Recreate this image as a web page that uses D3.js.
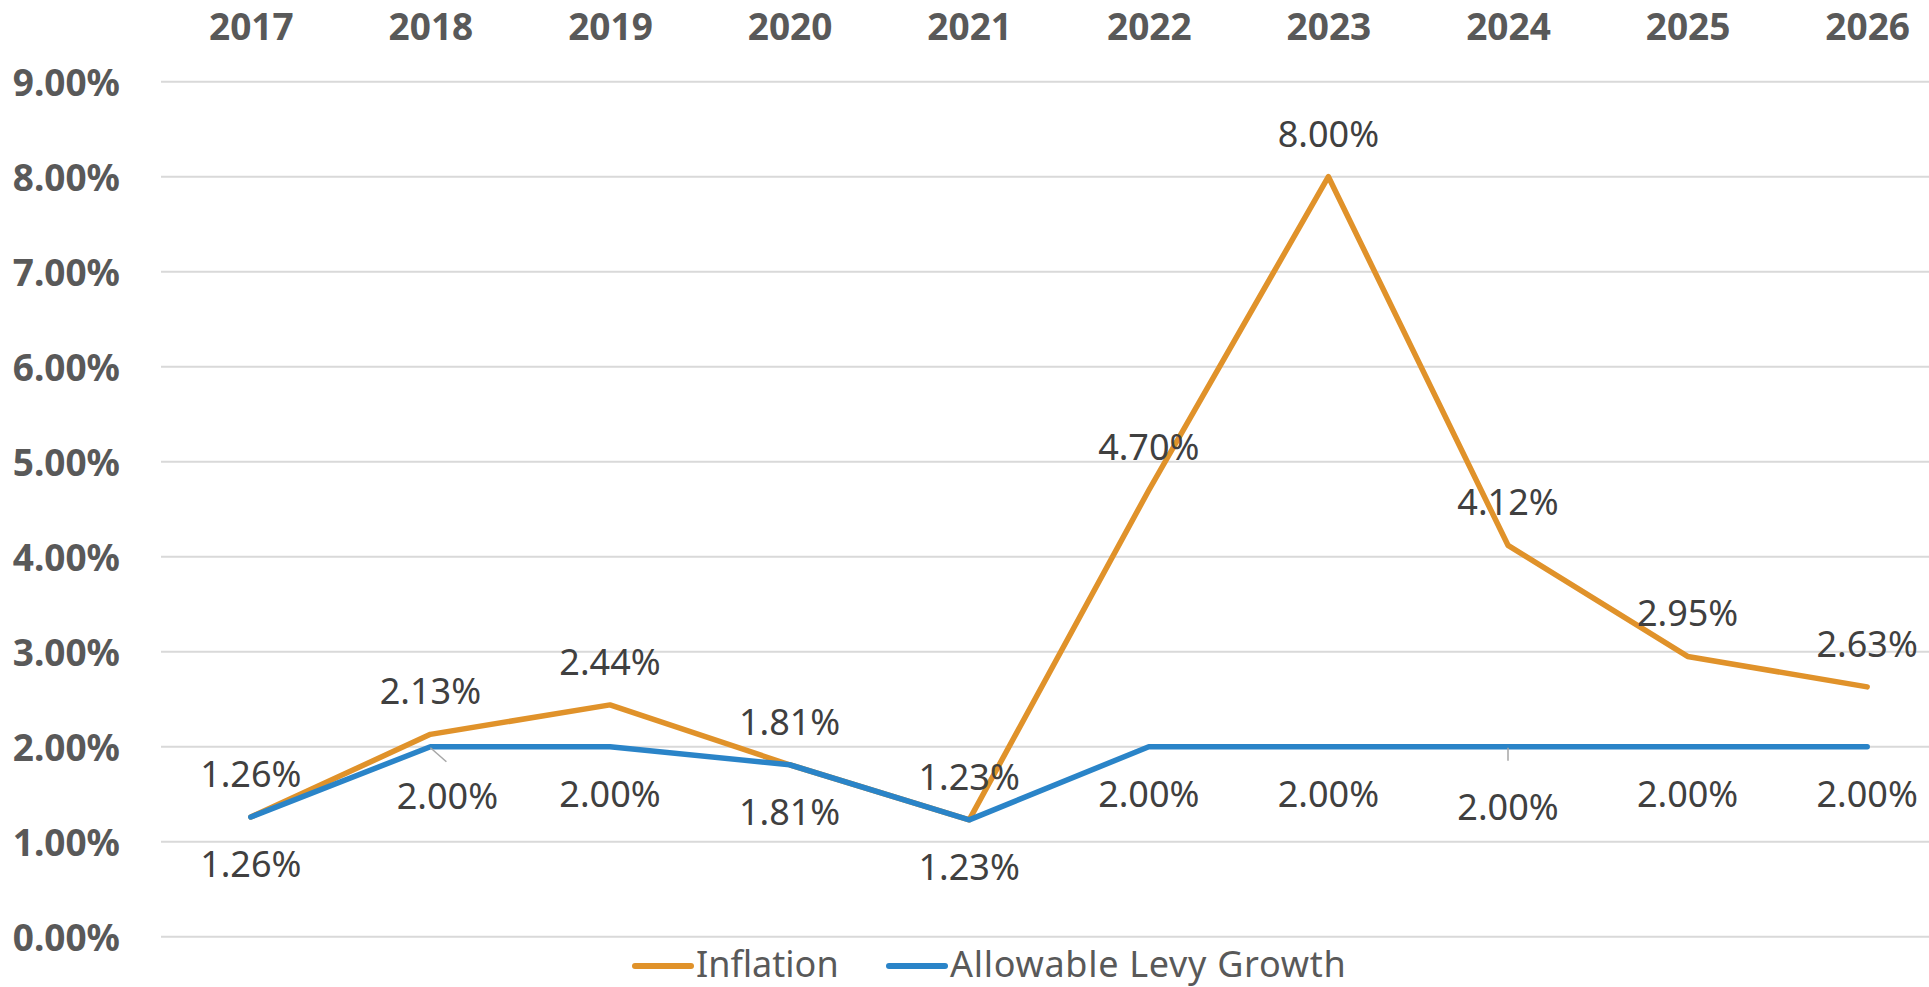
<!DOCTYPE html>
<html>
<head>
<meta charset="utf-8">
<script src="https://cdn.jsdelivr.net/npm/d3@7"></script>
<style>
  html, body { margin: 0; padding: 0; background: #ffffff; overflow: hidden; }
  svg { display: block; }
</style>
</head>
<body>
<svg id="chart" width="1929" height="987"></svg>
<script>
// ---- data ----
const years = ["2017", "2018", "2019", "2020", "2021", "2022", "2023", "2024", "2025", "2026"];
const inflation = [1.26, 2.13, 2.44, 1.81, 1.23, 4.70, 8.00, 4.12, 2.95, 2.63];
const allowableLevyGrowth = [1.26, 2.00, 2.00, 1.81, 1.23, 2.00, 2.00, 2.00, 2.00, 2.00];
const yTicks = [0, 1, 2, 3, 4, 5, 6, 7, 8, 9];
const seriesNames = ["Inflation", "Allowable Levy Growth"];

// ---- layout / style ----
const W = 1929, H = 987;
const colors = { "Inflation": "#E0922A", "Allowable Levy Growth": "#2A84C8" };
const FONT = "'Noto Sans', 'Liberation Sans', sans-serif";
// label nudges for labels Excel moved (with leader lines): [dx, dy] relative to default spot
const allowNudge = { "2018": [17, 2], "2024": [0, 13] };

const svg = d3.select("#chart");

const x = d3.scalePoint().domain(years).range([161, 1957]).padding(0.5);
const y = d3.scaleLinear().domain([0, 9]).range([936.7, 81.7]);

// gridlines
svg.append("g").selectAll("line").data(yTicks).join("line")
  .attr("x1", 161).attr("x2", 1957)
  .attr("y1", d => y(d)).attr("y2", d => y(d))
  .attr("stroke", "#D9D9D9").attr("stroke-width", 2);

// y axis labels
const yAxis = d3.axisLeft(y).tickValues(yTicks).tickSize(0).tickPadding(0)
  .tickFormat(d => d.toFixed(2) + "%");
const gy = svg.append("g").attr("transform", "translate(120,0)").call(yAxis);
gy.select(".domain").remove();
gy.selectAll("text")
  .attr("font-family", FONT).attr("font-size", 37).attr("font-weight", "bold")
  .attr("fill", "#595959").attr("dy", "0.36em");

// x axis on top
const xAxis = d3.axisTop(x).tickSize(0).tickPadding(0);
const gx = svg.append("g").attr("transform", "translate(0,39.5)").call(xAxis);
gx.select(".domain").remove();
gx.selectAll("text")
  .attr("font-family", FONT).attr("font-size", 37).attr("font-weight", "bold")
  .attr("fill", "#595959").attr("dy", 0);

// lines
const line = d3.line().x((d, i) => x(years[i])).y(d => y(d));
const seriesData = [
  { name: "Inflation", values: inflation },
  { name: "Allowable Levy Growth", values: allowableLevyGrowth }
];
svg.append("g").selectAll("path").data(seriesData).join("path")
  .attr("d", d => line(d.values))
  .attr("fill", "none")
  .attr("stroke", d => colors[d.name])
  .attr("stroke-width", 5.5)
  .attr("stroke-linejoin", "round")
  .attr("stroke-linecap", "round");

// leader lines for moved labels
const leaders = svg.append("g");
years.forEach((yr, i) => {
  if (!allowNudge[yr]) return;
  const [dx, dy] = allowNudge[yr];
  const px = x(yr), py = y(allowableLevyGrowth[i]);
  leaders.append("line")
    .attr("x1", px).attr("y1", py + 1)
    .attr("x2", px + (dx ? dx - 1 : 0)).attr("y2", py + (dx ? 15 : 14))
    .attr("stroke", "#A6A6A6").attr("stroke-width", 1.5);
});

// data labels
const fmt = v => v.toFixed(2) + "%";
svg.append("g").selectAll("text").data(inflation).join("text")
  .attr("x", (d, i) => x(years[i]))
  .attr("y", d => y(d) - 30)
  .attr("text-anchor", "middle")
  .attr("font-family", FONT).attr("font-size", 36)
  .attr("fill", "#404040")
  .text(fmt);

svg.append("g").selectAll("text").data(allowableLevyGrowth).join("text")
  .attr("x", (d, i) => x(years[i]) + (allowNudge[years[i]] ? allowNudge[years[i]][0] : 0))
  .attr("y", (d, i) => y(d) + 60 + (allowNudge[years[i]] ? allowNudge[years[i]][1] : 0))
  .attr("text-anchor", "middle")
  .attr("font-family", FONT).attr("font-size", 36)
  .attr("fill", "#404040")
  .text(fmt);

// legend
const legendX = [635, 889];
const lg = svg.append("g");
seriesNames.forEach((name, i) => {
  lg.append("line")
    .attr("x1", legendX[i]).attr("x2", legendX[i] + 56)
    .attr("y1", 966).attr("y2", 966)
    .attr("stroke", colors[name]).attr("stroke-width", 6)
    .attr("stroke-linecap", "round");
  lg.append("text")
    .attr("x", legendX[i] + 61).attr("y", 976.5)
    .attr("font-family", FONT).attr("font-size", 36)
    .attr("letter-spacing", i === 1 ? 0.7 : 0)
    .attr("fill", "#595959")
    .text(name);
});
</script>
</body>
</html>
